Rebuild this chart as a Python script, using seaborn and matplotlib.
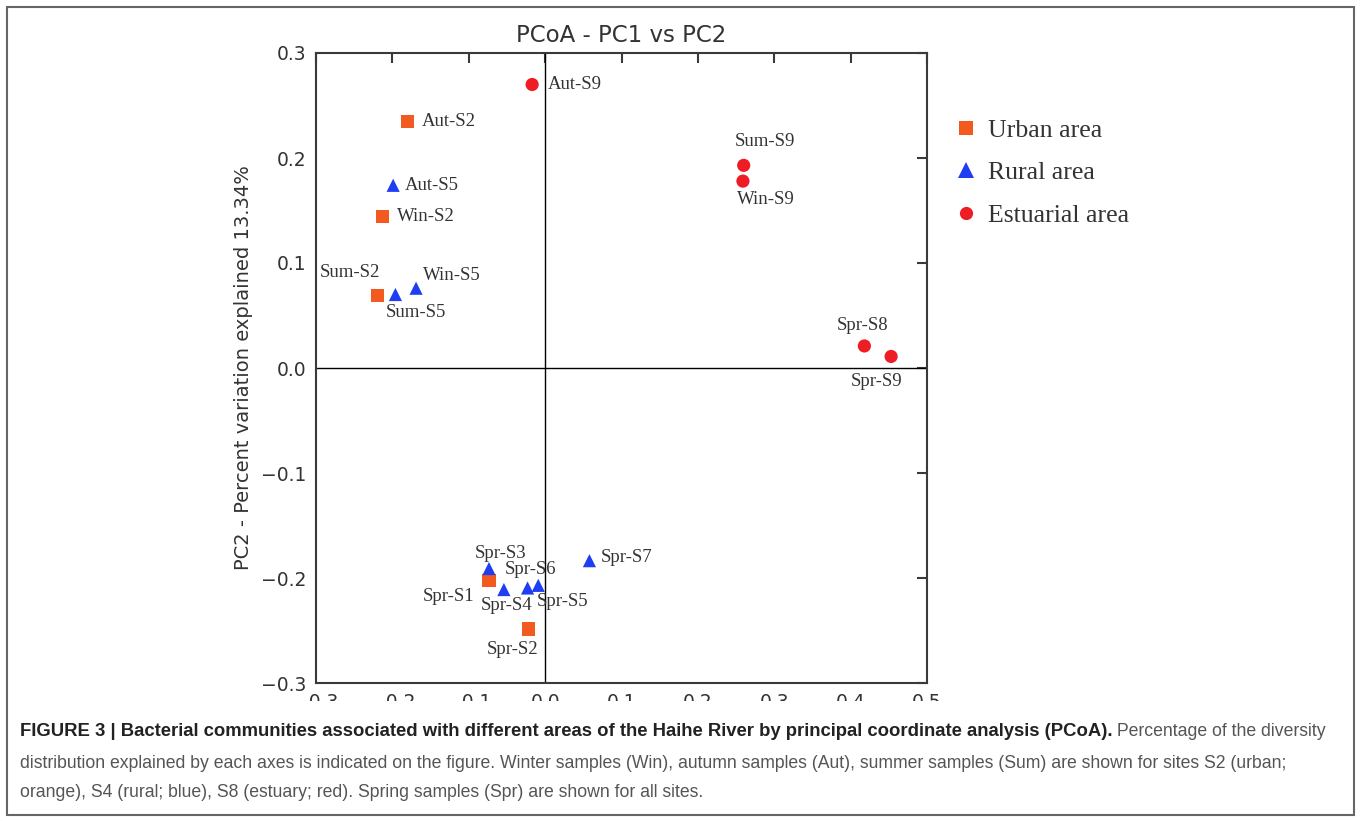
# PCoA das comunidades bacterianas - rio Haihe
import numpy as np
import pandas as pd
import matplotlib
matplotlib.use('Agg')
import matplotlib.pyplot as plt
import seaborn as sns
from matplotlib.patches import Rectangle
from matplotlib.lines import Line2D
from matplotlib import font_manager

# dados
amostras = ['Aut-S2', 'Win-S2', 'Sum-S2', 'Spr-S1', 'Spr-S2',
            'Aut-S5', 'Sum-S5', 'Win-S5', 'Spr-S3', 'Spr-S4', 'Spr-S6', 'Spr-S5', 'Spr-S7',
            'Aut-S9', 'Sum-S9', 'Win-S9', 'Spr-S8', 'Spr-S9']
areas = ['Urban area'] * 5 + ['Rural area'] * 8 + ['Estuarial area'] * 5
pc1 = [-0.180, -0.213, -0.219, -0.0735, -0.022,
       -0.199, -0.196, -0.169, -0.0735, -0.054, -0.023, -0.009, 0.058,
       -0.017, 0.260, 0.259, 0.418, 0.453]
pc2 = [0.235, 0.144, 0.069, -0.2025, -0.2486,
       0.174, 0.070, 0.076, -0.191, -0.211, -0.2095, -0.207, -0.1835,
       0.270, 0.193, 0.178, 0.021, 0.011]
xticks = [-0.3, -0.2, -0.1, 0.0, 0.1, 0.2, 0.3, 0.4, 0.5]
yticks = [-0.3, -0.2, -0.1, 0.0, 0.1, 0.2, 0.3]

titulo = 'PCoA - PC1 vs PC2'
rotulo_y = 'PC2 - Percent variation explained 13.34%'
legenda_negrito = ('FIGURE 3 | Bacterial communities associated with different areas of the '
                   'Haihe River by principal coordinate analysis (PCoA).')
legenda_linha1 = ' Percentage of the diversity'
legenda_linha2 = ('distribution explained by each axes is indicated on the figure. Winter samples (Win), '
                  'autumn samples (Aut), summer samples (Sum) are shown for sites S2 (urban;')
legenda_linha3 = ('orange), S4 (rural; blue), S8 (estuary; red). Spring samples (Spr) are shown '
                  'for all sites.')

df = pd.DataFrame({'amostra': amostras, 'area': areas, 'PC1': pc1, 'PC2': pc2})

# estilo
cores = {'Urban area': '#f25a1f', 'Rural area': '#1f3df2', 'Estuarial area': '#ee1c25'}
marcadores = {'Urban area': 's', 'Rural area': '^', 'Estuarial area': 'o'}

# deslocamento dos rotulos (pixels: dx, dy, alinhamento)
desloc = {
    'Aut-S2': (14, 0, 'left'), 'Win-S2': (15, 0, 'left'), 'Sum-S2': (-28, 23, 'center'),
    'Spr-S1': (-40, -16, 'center'), 'Spr-S2': (-16, -20, 'center'),
    'Aut-S5': (12, 0, 'left'), 'Sum-S5': (21, -18, 'center'), 'Win-S5': (36, 13, 'center'),
    'Spr-S3': (12, 15, 'center'), 'Spr-S4': (3, -16, 'center'), 'Spr-S6': (3, 18, 'center'),
    'Spr-S5': (24, -16, 'center'), 'Spr-S7': (11, 3, 'left'),
    'Aut-S9': (16, 0, 'left'), 'Sum-S9': (21, 24, 'center'), 'Win-S9': (23, -18, 'center'),
    'Spr-S8': (-2, 20, 'center'), 'Spr-S9': (-15, -25, 'center'),
}

sns.set_style('white')
plt.rcParams['font.family'] = ['DejaVu Sans']

W, H = 1360, 821
fig = plt.figure(figsize=(W / 100, H / 100), dpi=100)
ax = fig.add_axes([316 / W, 1 - 683 / H, (927 - 316) / W, (683 - 53) / H])

ax.axhline(0, color='black', lw=1, zorder=1)
ax.axvline(0, color='black', lw=1, zorder=1)

sns.scatterplot(data=df, x='PC1', y='PC2', hue='area', style='area',
                palette=cores, markers=marcadores, s=90, linewidth=0,
                legend=False, ax=ax, zorder=3)

for nome, x, y in zip(amostras, pc1, pc2):
    dx, dy, ha = desloc[nome]
    ax.annotate(nome, (x, y), xytext=(dx * 0.72, dy * 0.72), textcoords='offset points',
                ha=ha, va='center', fontsize=13.5, family='Liberation Serif', color='#333333')

ax.set_xlim(-0.3, 0.5)
ax.set_ylim(-0.3, 0.3)
ax.set_xticks(xticks)
ax.set_yticks(yticks)
ax.tick_params(direction='in', top=True, right=True, length=7, width=1.5,
               labelsize=13.5, pad=7, labelcolor='#333333', color='#3a3a3a')
for sp in ax.spines.values():
    sp.set_color('#3a3a3a')
    sp.set_linewidth(1.5)

ax.set_xlabel('')
ax.set_ylabel(rotulo_y, fontsize=14, labelpad=6, color='#333333')
ax.set_title(titulo, fontsize=16.5, pad=8, color='#333333')

# legenda
alcas = [Line2D([], [], ls='none', marker='s', ms=9.4, color=cores['Urban area'], mew=0),
         Line2D([], [], ls='none', marker='^', ms=11, color=cores['Rural area'], mew=0),
         Line2D([], [], ls='none', marker='o', ms=9.5, color=cores['Estuarial area'], mew=0)]
fig.legend(alcas, ['Urban area', 'Rural area', 'Estuarial area'], loc='upper left',
           bbox_to_anchor=(953 / W, 1 - 119 / H), frameon=False, handlelength=1.0,
           handletextpad=0.35, borderpad=0, borderaxespad=0, labelspacing=0.75,
           prop={'family': 'Liberation Serif', 'size': 18.5}, labelcolor='#333333')

# rotulos do eixo x cortados como na imagem original
fig.add_artist(Rectangle((270 / W, 1 - 716 / H), 720 / W, 15 / H, transform=fig.transFigure,
                         facecolor='white', edgecolor='none', zorder=10))

# moldura
fig.add_artist(Rectangle((7 / W, 1 - 815 / H), (1354 - 7) / W, (815 - 7) / H,
                         transform=fig.transFigure, facecolor='none', edgecolor='#666666',
                         lw=1.5, zorder=11))

# texto da legenda da figura
nomes = {f.name for f in font_manager.fontManager.ttflist}
if 'Liberation Sans Narrow' in nomes:
    fonte_leg, tam_neg, tam_leg = 'Liberation Sans Narrow', 15.5, 15
else:
    fonte_leg, tam_neg, tam_leg = 'Liberation Sans', 13.3, 12.7

t1 = fig.text(20 / W, 1 - 736 / H, legenda_negrito, fontsize=tam_neg, weight='bold',
              family=fonte_leg, color='#222222', va='baseline', zorder=12)
fig.canvas.draw()
fim = t1.get_window_extent(fig.canvas.get_renderer()).x1
fig.text(fim / W, 1 - 736 / H, legenda_linha1, fontsize=tam_leg, family=fonte_leg,
         color='#555555', va='baseline', zorder=12)
fig.text(20 / W, 1 - 768 / H, legenda_linha2, fontsize=tam_leg, family=fonte_leg,
         color='#555555', va='baseline', zorder=12)
fig.text(20 / W, 1 - 797 / H, legenda_linha3, fontsize=tam_leg, family=fonte_leg,
         color='#555555', va='baseline', zorder=12)

fig.savefig('out.png', dpi=100, facecolor='white')
